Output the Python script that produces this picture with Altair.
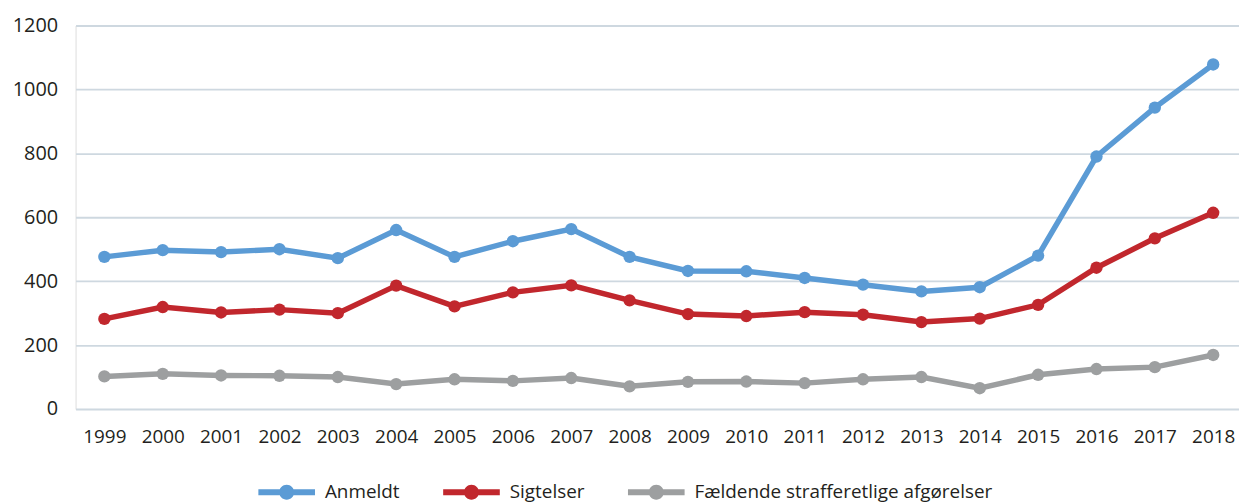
import altair as alt
import pandas as pd

years = list(range(1999, 2019))
anmeldt = [476, 497, 491, 500, 472, 560, 476, 525, 563, 476, 432, 431, 410, 389, 368, 381, 480, 790, 943, 1078]
sigtelser = [282, 319, 302, 311, 300, 386, 321, 365, 387, 340, 297, 291, 303, 295, 272, 283, 326, 442, 534, 614]
faeldende = [102, 110, 105, 104, 100, 78, 93, 88, 97, 71, 85, 86, 81, 93, 100, 65, 107, 125, 131, 169]

series_names = ["Anmeldt", "Sigtelser", "Fældende strafferetlige afgørelser"]
series_colors = ["#5B9BD5", "#C1272D", "#9D9FA0"]

rows = []
for name, vals in zip(series_names, [anmeldt, sigtelser, faeldende]):
    for y, v in zip(years, vals):
        rows.append({"year": y, "value": v, "series": name})
df = pd.DataFrame(rows)

FONT = "Open Sans"
TEXT = "#231F20"

x_enc = alt.X("year:Q",
              scale=alt.Scale(domain=[1998.5063, 2018.4425], nice=False, zero=False),
              axis=alt.Axis(values=years, format="d", title=None, grid=False, domain=False,
                            ticks=False, labelFontSize=19, labelPadding=19,
                            labelColor=TEXT, labelFont=FONT, labelFlush=False,
                            labelOverlap=False))
y_enc = alt.Y("value:Q",
              scale=alt.Scale(domain=[0, 1200], nice=False),
              axis=alt.Axis(values=[0, 200, 400, 600, 800, 1000, 1200], format="d", title=None,
                            domain=False, ticks=False, labelFontSize=20, labelPadding=18,
                            labelColor=TEXT, labelFont=FONT,
                            gridColor="#CED8E0", gridWidth=1.8))

# legend glyph: a short thick line with a dot in the middle (units = 7.5 px)
legend_path = ("M-3.8,-0.4L3.8,-0.4L3.8,0.4L-3.8,0.4Z "
               "M1,0A1,1 0 1,1 -1,0A1,1 0 1,1 1,0Z")

color_enc = alt.Color("series:N",
                      scale=alt.Scale(domain=series_names, range=series_colors),
                      legend=alt.Legend(title=None, orient="none", direction="horizontal",
                                        legendX=203, legendY=460,
                                        symbolType=legend_path, symbolSize=225,
                                        symbolStrokeWidth=0, symbolOpacity=1,
                                        labelFontSize=19, labelFont=FONT, labelColor=TEXT,
                                        labelOffset=29, columnPadding=43, labelLimit=500))

lines = alt.Chart(df).mark_line(strokeWidth=5.5).encode(
    x=x_enc, y=y_enc, color=color_enc,
)

points = alt.Chart(df).mark_point(filled=True, size=155, opacity=1).encode(
    x=x_enc, y=y_enc, color=color_enc,
)

chart = alt.layer(lines, points).properties(
    width=1171, height=386,
    autosize=alt.AutoSizeParams(type="pad"),
    padding={"left": 4, "top": 6, "right": 0, "bottom": 0},
).configure_view(stroke=None).configure(background="white")

chart.save("out.html", embed_options={"renderer": "svg", "actions": False})
